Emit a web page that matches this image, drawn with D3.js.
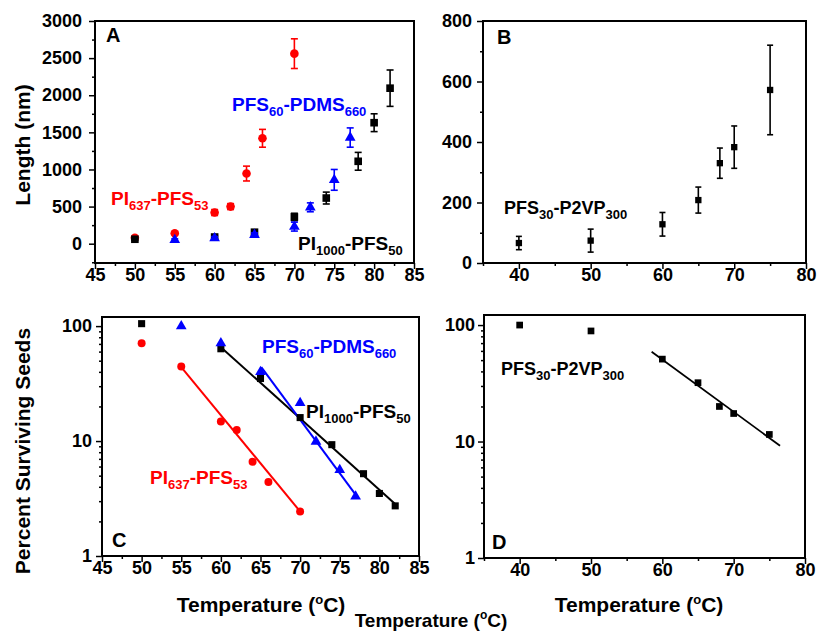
<!DOCTYPE html>
<html><head><meta charset="utf-8">
<script src="https://cdn.jsdelivr.net/npm/d3@7"></script>
<style>
body{margin:0;background:#fff}
svg{display:block}
text{font-family:"Liberation Sans",Arial,Helvetica,sans-serif;font-weight:bold}
</style>
</head><body>
<script>
// ---------- DATA ----------
// Panel A: length (nm) vs temperature
const tempA_PI637 = [50, 55, 60, 62, 64, 66, 70];
const lenA_PI637  = [80, 140, 420, 500, 945, 1420, 2560];
const errA_PI637  = [20, 20, 40, 40, 100, 120, 200];

const tempA_PFS60 = [55, 60, 65, 70, 72, 75, 77];
const lenA_PFS60  = [50, 75, 120, 230, 490, 860, 1430];
const errA_PFS60  = [15, 20, 25, 60, 60, 140, 130];

const tempA_PI1000 = [50, 60, 65, 70, 74, 78, 80, 82];
const lenA_PI1000  = [60, 90, 155, 360, 615, 1110, 1630, 2095];
const errA_PI1000  = [15, 20, 25, 50, 80, 120, 120, 245];

// Panel B: PFS30-P2VP300 length
const tempB = [40, 50, 60, 65, 68, 70, 75];
const lenB  = [66, 74, 128, 208, 330, 383, 572];
const errB  = [22, 38, 39, 43, 50, 70, 148];

// Panel C: percent surviving seeds
const tempC_PI637 = [50, 55, 60, 62, 64, 66, 70];
const pctC_PI637  = [71, 44.5, 14.8, 12.5, 6.6, 4.4, 2.44];
const fitC_PI637_T = [55, 70];
const fitC_PI637_P = [44, 2.44];

const tempC_PI1000 = [50, 60, 65, 70, 74, 78, 80, 82];
const pctC_PI1000  = [105, 63.5, 35, 16, 9.3, 5.2, 3.5, 2.73];
const fitC_PI1000_T = [60, 82.2];
const fitC_PI1000_P = [65.6, 2.75];

const tempC_PFS60 = [55, 60, 65, 70, 72, 75, 77];
const pctC_PFS60  = [100, 71, 40, 21.5, 9.9, 5.6, 3.3];
const fitC_PFS60_T = [65.1, 77.3];
const fitC_PFS60_P = [44, 3.2];

// Panel D: PFS30-P2VP300 surviving seeds
const tempD = [40, 50, 60, 65, 68, 70, 75];
const pctD  = [100, 89, 51, 32, 20, 17.4, 11.5];
const fitD_T = [58.5, 76.5];
const fitD_P = [59, 9.2];

// Tick values
const ticksA_x = [45, 50, 55, 60, 65, 70, 75, 80, 85];
const ticksA_y = [0, 500, 1000, 1500, 2000, 2500, 3000];
const ticksB_x = [40, 50, 60, 70, 80];
const ticksB_y = [0, 200, 400, 600, 800];
const ticksLog = [1, 10, 100];

// ---------- DRAW ----------
const RED = "#ff0000", BLUE = "#0000ff", BLACK = "#000000";
const svg = d3.select("body").append("svg").attr("width", 817).attr("height", 633);

function range(a, b, s) { const r = []; for (let v = a; v <= b + 1e-9; v += s) r.push(+v.toFixed(4)); return r; }

function makePanel(cfg) {
  const x = d3.scaleLinear().domain(cfg.xdom).range([cfg.x0, cfg.x1]);
  const y = (cfg.log ? d3.scaleLog() : d3.scaleLinear()).domain(cfg.ydom).range([cfg.y1, cfg.y0]);
  const g = svg.append("g");
  g.append("g").attr("transform", `translate(0,${cfg.y1})`)
    .call(d3.axisBottom(x).tickValues(cfg.xMinor).tickSize(3).tickFormat(""))
    .call(s => s.select(".domain").remove())
    .call(s => s.selectAll("line").attr("stroke-width", 1.5));
  g.append("g").attr("transform", `translate(0,${cfg.y1})`)
    .call(d3.axisBottom(x).tickValues(cfg.xMajor).tickSize(6).tickPadding(-1).tickFormat(d3.format("d")))
    .call(s => s.select(".domain").remove())
    .call(s => s.selectAll("line").attr("stroke-width", 1.5))
    .call(s => s.selectAll("text").attr("font-size", 18).attr("fill", BLACK)
      .attr("font-family", '"Liberation Sans",Arial,sans-serif').attr("font-weight", "bold"));
  g.append("g").attr("transform", `translate(${cfg.x0},0)`)
    .call(d3.axisLeft(y).tickValues(cfg.yMinor).tickSize(3).tickFormat(""))
    .call(s => s.select(".domain").remove())
    .call(s => s.selectAll("line").attr("stroke-width", 1.5));
  g.append("g").attr("transform", `translate(${cfg.x0},0)`)
    .call(d3.axisLeft(y).tickValues(cfg.yMajor).tickSize(6).tickPadding(cfg.ypad).tickFormat(d3.format("d")))
    .call(s => s.select(".domain").remove())
    .call(s => s.selectAll("line").attr("stroke-width", 1.5))
    .call(s => s.selectAll("text").attr("font-size", 18).attr("fill", BLACK)
      .attr("font-family", '"Liberation Sans",Arial,sans-serif').attr("font-weight", "bold"));
  g.append("rect").attr("x", cfg.x0).attr("y", cfg.y0)
    .attr("width", cfg.x1 - cfg.x0).attr("height", cfg.y1 - cfg.y0)
    .attr("fill", "none").attr("stroke", BLACK).attr("stroke-width", 2);
  return { x, y, g };
}

function errorBars(p, xs, ys, es, color, cap) {
  const g = p.g.append("g").attr("stroke", color).attr("stroke-width", 1.6);
  xs.forEach((t, i) => {
    const cx = p.x(t), top = p.y(ys[i] + es[i]), bot = p.y(ys[i] - es[i]);
    g.append("line").attr("x1", cx).attr("x2", cx).attr("y1", top).attr("y2", bot);
    g.append("line").attr("x1", cx - cap).attr("x2", cx + cap).attr("y1", top).attr("y2", top);
    g.append("line").attr("x1", cx - cap).attr("x2", cx + cap).attr("y1", bot).attr("y2", bot);
  });
}

function markers(p, xs, ys, type, size, color) {
  p.g.append("g").selectAll("path").data(xs).join("path")
    .attr("transform", (t, i) => `translate(${p.x(t)},${p.y(ys[i])})`)
    .attr("d", d3.symbol().type(type).size(size))
    .attr("fill", color);
}

function fitLine(p, ts, vs, color, w) {
  p.g.append("path").datum(ts.map((t, i) => [t, vs[i]]))
    .attr("d", d3.line().x(d => p.x(d[0])).y(d => p.y(d[1])))
    .attr("fill", "none").attr("stroke", color).attr("stroke-width", w);
}

function rich(x, y, parts, color, size, subSize, attrs) {
  const t = svg.append("text").attr("x", x).attr("y", y).attr("fill", color).attr("font-size", size);
  if (attrs) Object.entries(attrs).forEach(([k, v]) => t.attr(k, v));
  let shift = 0;
  parts.forEach(([s, kind]) => {
    let target = 0, fs = size;
    if (kind === "sub") { target = size * 0.28; fs = subSize; }
    if (kind === "sup") { target = -size * 0.4; fs = subSize; }
    t.append("tspan").attr("dy", target - shift).attr("font-size", fs).text(s);
    shift = target;
  });
  return t;
}

// Panel A
const pA = makePanel({ x0: 95, x1: 414, y0: 21, y1: 263, xdom: [45, 85], ydom: [-260, 3000],
  xMajor: ticksA_x, xMinor: range(47.5, 82.5, 5), yMajor: ticksA_y, yMinor: range(-250, 2750, 500), ypad: 7 });
errorBars(pA, tempA_PI637, lenA_PI637, errA_PI637, RED, 3.5);
markers(pA, tempA_PI637, lenA_PI637, d3.symbolCircle, 58, RED);
errorBars(pA, tempA_PI1000, lenA_PI1000, errA_PI1000, BLACK, 3.5);
markers(pA, tempA_PI1000, lenA_PI1000, d3.symbolSquare, 58, BLACK);
errorBars(pA, tempA_PFS60, lenA_PFS60, errA_PFS60, BLUE, 3.5);
markers(pA, tempA_PFS60, lenA_PFS60, d3.symbolTriangle, 50, BLUE);

// Panel B
const pB = makePanel({ x0: 483, x1: 806, y0: 21, y1: 263, xdom: [35, 80], ydom: [0, 800],
  xMajor: ticksB_x, xMinor: range(35, 75, 10), yMajor: ticksB_y, yMinor: range(100, 700, 200), ypad: 5 });
errorBars(pB, tempB, lenB, errB, BLACK, 3);
markers(pB, tempB, lenB, d3.symbolSquare, 40, BLACK);

// Panel C
const logMinor = [2,3,4,5,6,7,8,9,20,30,40,50,60,70,80,90];
const pC = makePanel({ x0: 102, x1: 419, y0: 317, y1: 556, xdom: [45, 85], ydom: [1, 120], log: true,
  xMajor: ticksA_x, xMinor: range(47.5, 82.5, 5), yMajor: ticksLog, yMinor: logMinor, ypad: 4 });
fitLine(pC, fitC_PI637_T, fitC_PI637_P, RED, 2);
fitLine(pC, fitC_PI1000_T, fitC_PI1000_P, BLACK, 2);
fitLine(pC, fitC_PFS60_T, fitC_PFS60_P, BLUE, 2);
markers(pC, tempC_PI637, pctC_PI637, d3.symbolCircle, 50, RED);
markers(pC, tempC_PI1000, pctC_PI1000, d3.symbolSquare, 50, BLACK);
markers(pC, tempC_PFS60, pctC_PFS60, d3.symbolTriangle, 50, BLUE);

// Panel D
const pD = makePanel({ x0: 484, x1: 805, y0: 315, y1: 558, xdom: [35, 80], ydom: [1, 122], log: true,
  xMajor: ticksB_x, xMinor: range(35, 75, 10), yMajor: ticksLog, yMinor: logMinor, ypad: 3 });
fitLine(pD, fitD_T, fitD_P, BLACK, 1.8);
markers(pD, tempD, pctD, d3.symbolSquare, 45, BLACK);

// Panel letters
[["A", 106, 42], ["B", 497, 44], ["C", 112, 547], ["D", 492, 549]].forEach(([s, x, y]) =>
  svg.append("text").attr("x", x).attr("y", y).attr("font-size", 20).attr("fill", BLACK).text(s));

// Series labels
const lblPFS60 = [["PFS", "n"], ["60", "sub"], ["-PDMS", "n"], ["660", "sub"]];
const lblPI637 = [["PI", "n"], ["637", "sub"], ["-PFS", "n"], ["53", "sub"]];
const lblPI1000 = [["PI", "n"], ["1000", "sub"], ["-PFS", "n"], ["50", "sub"]];
const lblP2VP = [["PFS", "n"], ["30", "sub"], ["-P2VP", "n"], ["300", "sub"]];
rich(232, 111, lblPFS60, BLUE, 19, 13);
rich(111, 205, lblPI637, RED, 19, 13);
rich(298, 250, lblPI1000, BLACK, 19, 13);
rich(504, 214, lblP2VP, BLACK, 18, 13);
rich(262, 353, lblPFS60, BLUE, 19, 13);
rich(306, 418, lblPI1000, BLACK, 19, 13);
rich(150, 484, lblPI637, RED, 19, 13);
rich(501, 375, lblP2VP, BLACK, 18, 13);

// Axis titles
const tempTitle = [["Temperature (", "n"], ["o", "sup"], ["C)", "n"]];
rich(261, 612, tempTitle, BLACK, 21, 13, { "text-anchor": "middle" });
rich(639, 612, tempTitle, BLACK, 21, 13, { "text-anchor": "middle" });
rich(431, 627, tempTitle, BLACK, 19, 12, { "text-anchor": "middle" });

svg.append("text").attr("transform", "translate(22,145) rotate(-90)").attr("text-anchor", "middle")
  .attr("dy", "0.36em").attr("font-size", 21).attr("fill", BLACK).text("Length (nm)");
svg.append("text").attr("transform", "translate(22,451) rotate(-90)").attr("text-anchor", "middle")
  .attr("dy", "0.36em").attr("font-size", 21).attr("fill", BLACK).text("Percent Surviving Seeds");
</script>
</body></html>
